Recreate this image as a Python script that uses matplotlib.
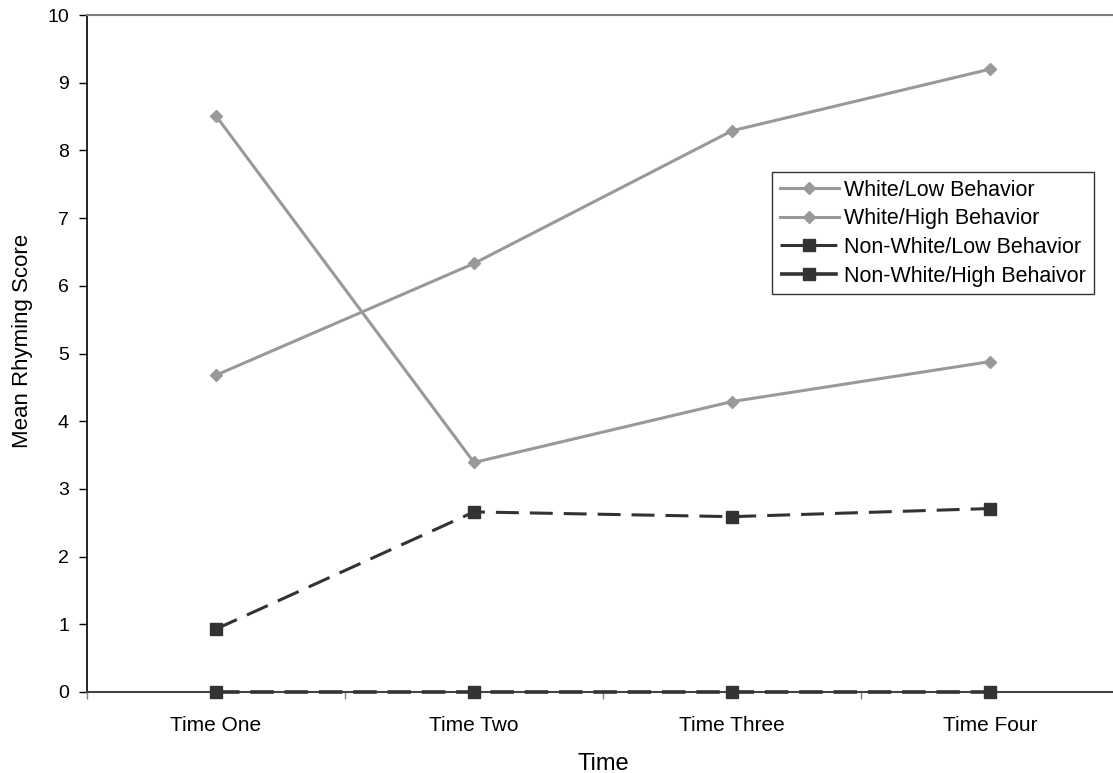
import matplotlib
matplotlib.use("Agg")
import matplotlib.pyplot as plt
import numpy as np

plt.rcParams['font.family'] = ['Liberation Sans', 'DejaVu Sans']

categories = ["Time One", "Time Two", "Time Three", "Time Four"]
white_low = [8.51, 3.39, 4.29, 4.88]
white_high = [4.68, 6.33, 8.29, 9.20]
nonwhite_low = [0.93, 2.66, 2.59, 2.71]
nonwhite_high = [0.0, 0.0, 0.0, 0.0]
yticks = list(range(0, 11))

W, H = 1113, 773
fig = plt.figure(figsize=(W / 100, H / 100), dpi=100)
ax = fig.add_axes([87 / W, (H - 692) / H, (1119 - 87) / W, (692 - 15) / H])

x = np.arange(len(categories))
gray = "#999999"
dark = "#333333"
lw = 2.2

ax.plot(x, white_low, color=gray, lw=lw, marker="D", ms=6.5, label="White/Low Behavior", zorder=3)
ax.plot(x, white_high, color=gray, lw=lw, marker="D", ms=6.5, label="White/High Behavior", zorder=3)
ax.plot(x, nonwhite_low, color=dark, lw=lw, marker="s", ms=9, dashes=(7.5, 3.6),
        label="Non-White/Low Behavior", zorder=4)
ax.plot(x, nonwhite_high, color=dark, lw=2.6, marker="s", ms=9, dashes=(6.5, 3.0),
        label="Non-White/High Behaivor", zorder=4, clip_on=False)

ax.set_xlim(-0.5, 3.5)
ax.set_ylim(0, 10)
ax.set_yticks(yticks)
ax.set_xticks(x)
ax.set_xticklabels(categories)
ax.set_xticks(np.arange(-0.5, 4.0, 1.0), minor=True)
ax.tick_params(axis="x", which="major", length=0, pad=17, labelsize=15)
ax.tick_params(axis="x", which="minor", length=5, color="#808080", width=1)
ax.tick_params(axis="y", length=6, width=1, direction="out", pad=7, labelsize=14)

ax.spines["left"].set_color("black")
ax.spines["left"].set_linewidth(1.2)
ax.spines["bottom"].set_color("#444444")
ax.spines["bottom"].set_linewidth(1.5)
ax.spines["top"].set_color("#808080")
ax.spines["top"].set_linewidth(1.5)
ax.spines["right"].set_visible(False)

ax.set_xlabel("Time", fontsize=17, labelpad=13)
ax.set_ylabel("Mean Rhyming Score", fontsize=16)
ax.yaxis.set_label_coords((33 - 87) / (1119 - 87), (692 - 341) / (692 - 15))

leg = ax.legend(loc="upper left", bbox_to_anchor=((772 - 87) / (1119 - 87), (692 - 172) / (692 - 15)),
                frameon=True, fancybox=False, fontsize=15.5, handlelength=2.75,
                handletextpad=0.25, borderpad=0.35, labelspacing=0.36, borderaxespad=0)
leg.get_frame().set_edgecolor("black")
leg.get_frame().set_linewidth(1.0)

fig.savefig("out.png", dpi=100)
